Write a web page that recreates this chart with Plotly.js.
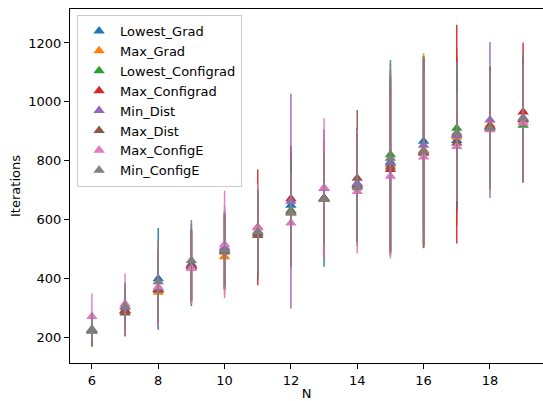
<!DOCTYPE html>
<html>
<head>
<meta charset="utf-8">
<script src="https://cdn.plot.ly/plotly-3.0.1.min.js"></script>
<style>html,body{margin:0;padding:0;background:#fff;}#chart{width:543px;height:401px;}</style>
</head>
<body>
<div id="chart"></div>
<script>
const N = [6, 7, 8, 9, 10, 11, 12, 13, 14, 15, 16, 17, 18, 19];

const seriesNames = ["Lowest_Grad", "Max_Grad", "Lowest_Configrad", "Max_Configrad",
                     "Min_Dist", "Max_Dist", "Max_ConfigE", "Min_ConfigE"];

const lowestGrad      = [222, 290, 398, 445, 500, 555, 648, 672, 722, 795, 866, 868, 915, 940];
const lowestGradErr   = [55, 80, 173, 140, 130, 140, 180, 233, 190, 310, 290, 240, 200, 210];

const maxGrad         = [222, 288, 352, 440, 473, 550, 622, 668, 712, 785, 835, 880, 922, 935];
const maxGradErr      = [55, 80, 110, 120, 130, 140, 180, 200, 190, 310, 330, 300, 200, 210];

const lowestConfigrad = [220, 288, 360, 438, 490, 552, 630, 670, 715, 820, 828, 910, 912, 920];
const lowestConfigradErr = [50, 82, 120, 120, 130, 140, 180, 200, 190, 322, 326, 240, 200, 190];

const maxConfigrad    = [223, 290, 362, 440, 495, 573, 670, 672, 718, 770, 832, 890, 918, 965];
const maxConfigradErr = [50, 80, 120, 125, 130, 197, 180, 200, 190, 280, 320, 372, 200, 236];

const minDist         = [222, 300, 365, 448, 505, 560, 662, 705, 720, 790, 852, 885, 938, 945];
const minDistErr      = [50, 80, 130, 120, 140, 150, 365, 200, 190, 300, 300, 250, 265, 210];

const maxDist         = [225, 282, 360, 445, 490, 545, 625, 672, 740, 778, 825, 860, 915, 940];
const maxDistErr      = [55, 80, 120, 120, 130, 150, 180, 200, 232, 300, 320, 230, 200, 210];

const maxConfigE      = [270, 312, 370, 433, 515, 572, 588, 708, 695, 747, 812, 848, 905, 928];
const maxConfigEErr   = [78, 103, 130, 120, 183, 150, 170, 236, 210, 280, 300, 185, 200, 200];

const minConfigE      = [226, 305, 388, 460, 495, 558, 622, 668, 708, 808, 832, 895, 910, 945];
const minConfigEErr   = [57, 80, 140, 138, 125, 145, 185, 155, 185, 320, 320, 230, 208, 220];

const yTickVals = [200, 400, 600, 800, 1000, 1200];
const xTickVals = [6, 8, 10, 12, 14, 16, 18];

const values = [lowestGrad, maxGrad, lowestConfigrad, maxConfigrad, minDist, maxDist, maxConfigE, minConfigE];
const errors = [lowestGradErr, maxGradErr, lowestConfigradErr, maxConfigradErr, minDistErr, maxDistErr, maxConfigEErr, minConfigEErr];
const colors = ["#1f77b4", "#ff7f0e", "#2ca02c", "#d62728", "#9467bd", "#8c564b", "#e377c2", "#7f7f7f"];

function rgba(hex, a) {
  const r = parseInt(hex.slice(1, 3), 16), g = parseInt(hex.slice(3, 5), 16), b = parseInt(hex.slice(5, 7), 16);
  return `rgba(${r},${g},${b},${a})`;
}

const traces = seriesNames.map((name, i) => ({
  type: "scatter",
  mode: "markers",
  name: name,
  x: N,
  y: values[i],
  marker: { symbol: "triangle-up", size: 10, color: colors[i] },
  error_y: { type: "data", array: errors[i], visible: true, color: rgba(colors[i], 0.92), thickness: 1.5, width: 0 }
}));

const font = { family: "DejaVu Sans, sans-serif", size: 13, color: "#000" };

const layout = {
  width: 543,
  height: 401,
  margin: { l: 70, r: 0, t: 9, b: 38 },
  paper_bgcolor: "#fff",
  plot_bgcolor: "#fff",
  font: font,
  showlegend: true,
  legend: {
    x: 0.015, y: 0.983, xanchor: "left", yanchor: "top",
    bgcolor: "rgba(255,255,255,0.8)", bordercolor: "#cccccc", borderwidth: 1,
    font: font, tracegroupgap: 0, itemwidth: 32
  },
  xaxis: {
    range: [5.34, 19.6],
    tickvals: xTickVals,
    ticks: "outside", ticklen: 5, tickwidth: 1, tickcolor: "#000",
    showline: true, linecolor: "#000", linewidth: 1, mirror: true,
    showgrid: false, zeroline: false,
    tickfont: font,
    title: { text: "N", font: font, standoff: 7 }
  },
  yaxis: {
    range: [111.6, 1315.6],
    tickvals: yTickVals,
    ticks: "outside", ticklen: 5, tickwidth: 1, tickcolor: "#000",
    showline: true, linecolor: "#000", linewidth: 1,
    showgrid: false, zeroline: false,
    tickfont: font,
    title: { text: "Iterations", font: font, standoff: 4 }
  }
};

Plotly.newPlot("chart", traces, layout, { displayModeBar: false, staticPlot: true });
</script>
</body>
</html>
